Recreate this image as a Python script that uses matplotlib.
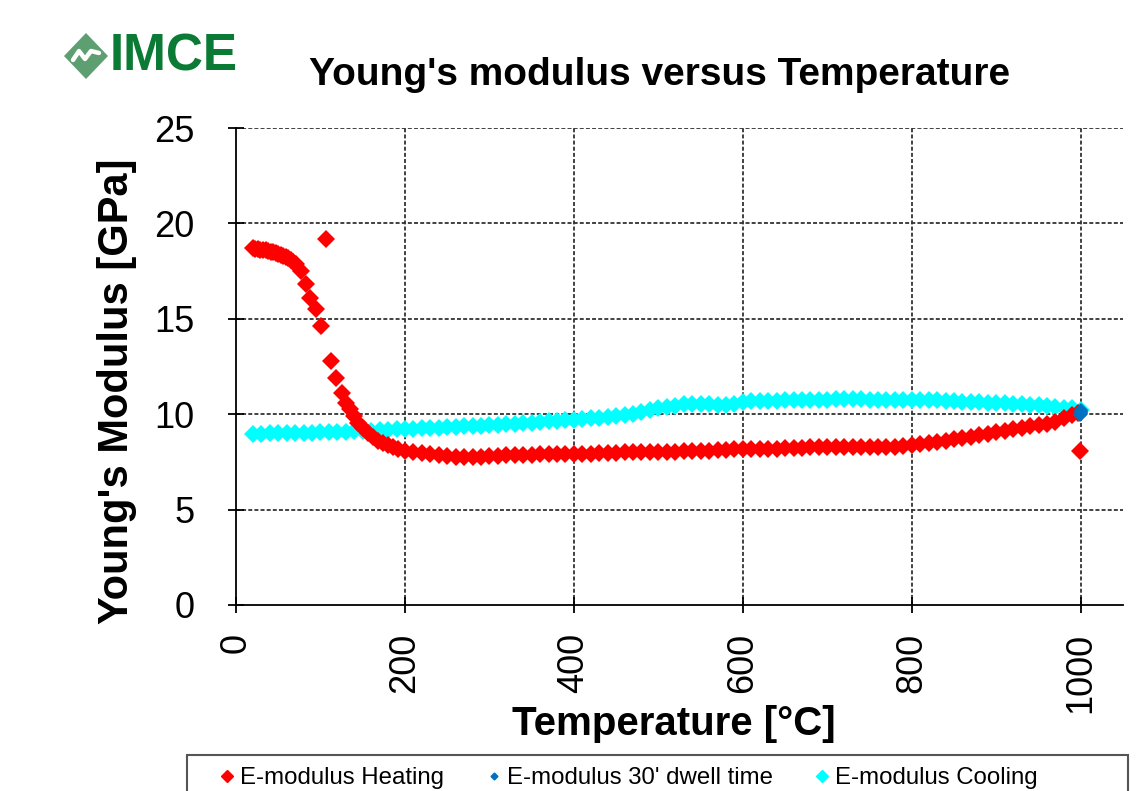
import matplotlib
matplotlib.use("Agg")
import matplotlib.pyplot as plt
from matplotlib.patches import Polygon, Rectangle
from matplotlib.lines import Line2D

plt.rcParams['font.family'] = ['Liberation Sans', 'DejaVu Sans']

# ---------------- data ----------------
heat_T = [20, 23, 26, 29, 32, 35, 38, 41, 44, 47, 50, 53, 56, 59, 62, 65, 68, 71,
          77, 83, 88, 95, 101, 106, 112, 118, 125, 130, 135, 140, 145, 150, 156,
          162, 168, 174, 180, 186, 192,
          200, 210, 220, 230, 240, 250, 260, 270, 280, 290, 300, 310, 320, 330,
          340, 350, 360, 370, 380, 390, 400, 410, 420, 430, 440, 450, 460, 470,
          480, 490, 500, 510, 520, 530, 540, 550, 560, 570, 580, 590, 600, 610,
          620, 630, 640, 650, 660, 670, 680, 690, 700, 710, 720, 730, 740, 750,
          760, 770, 780, 790, 800, 810, 820, 830, 840, 850, 860, 870, 880, 890,
          900, 910, 920, 930, 940, 950, 960, 970, 980, 990, 997, 999]
heat_E = [18.7, 18.65, 18.65, 18.6, 18.6, 18.6, 18.55, 18.5, 18.5, 18.45, 18.4,
          18.35, 18.3, 18.25, 18.2, 18.1, 18.0, 17.85,
          17.5, 16.8, 16.1, 15.5, 14.6, 19.2, 12.8, 11.9, 11.1, 10.6, 10.25, 9.9,
          9.55, 9.26, 9.0, 8.82, 8.62, 8.5, 8.38, 8.28, 8.18,
          8.08, 8.0, 7.95, 7.9, 7.85, 7.81, 7.78, 7.75, 7.76, 7.78, 7.8, 7.82,
          7.84, 7.86, 7.87, 7.88, 7.89, 7.9, 7.9, 7.91, 7.91, 7.92, 7.93, 7.95,
          7.97, 7.99, 8.0, 8.01, 8.02, 8.03, 8.03, 8.03, 8.04, 8.05, 8.06, 8.07,
          8.08, 8.1, 8.13, 8.16, 8.18, 8.18, 8.18, 8.19, 8.2, 8.21, 8.23, 8.25,
          8.26, 8.27, 8.27, 8.27, 8.27, 8.27, 8.28, 8.28, 8.29, 8.29, 8.3, 8.33,
          8.37, 8.42, 8.48, 8.55, 8.62, 8.68, 8.75, 8.82, 8.9, 8.98, 9.05, 9.13,
          9.22, 9.3, 9.37, 9.43, 9.5, 9.6, 9.8, 9.95, 10.05, 8.07]

dwell_T = [1000, 1000, 1000, 1000, 1000, 999]
dwell_E = [10.2, 10.15, 10.1, 10.05, 10.0, 9.95]

cool_T = [1000, 990, 980, 970, 960, 950, 940, 930, 920, 910, 900, 890, 880, 870,
          860, 850, 840, 830, 820, 810, 800, 790, 780, 770, 760, 750, 740, 730,
          720, 710, 700, 690, 680, 670, 660, 650, 640, 630, 620, 610, 600, 590,
          580, 570, 560, 550, 540, 530, 520, 510, 500, 490, 480, 470, 460, 450,
          440, 430, 420, 410, 400, 390, 380, 370, 360, 350, 340, 330, 320, 310,
          300, 290, 280, 270, 260, 250, 240, 230, 220, 210, 200, 190, 180, 170,
          160, 150, 140, 130, 120, 110, 100, 90, 80, 70, 60, 50, 40, 30, 20]
cool_E = [10.2, 10.3, 10.35, 10.4, 10.45, 10.48, 10.5, 10.52, 10.55, 10.57, 10.58,
          10.6, 10.62, 10.64, 10.66, 10.68, 10.7, 10.72, 10.73, 10.74, 10.75,
          10.75, 10.76, 10.76, 10.77, 10.77, 10.78, 10.78, 10.78, 10.78, 10.77,
          10.77, 10.76, 10.75, 10.73, 10.72, 10.71, 10.7, 10.69, 10.67, 10.62,
          10.52, 10.47, 10.5, 10.52, 10.55, 10.55, 10.52, 10.45, 10.38, 10.3,
          10.2, 10.1, 10.02, 9.95, 9.9, 9.86, 9.82, 9.78, 9.75, 9.72, 9.68, 9.65,
          9.62, 9.59, 9.56, 9.53, 9.5, 9.47, 9.44, 9.42, 9.4, 9.38, 9.36, 9.34,
          9.32, 9.3, 9.28, 9.26, 9.24, 9.22, 9.2, 9.18, 9.16, 9.14, 9.12, 9.1,
          9.09, 9.08, 9.06, 9.05, 9.04, 9.03, 9.02, 9.01, 9.0, 8.99, 8.98, 8.97]

x_ticks = [0, 200, 400, 600, 800, 1000]
y_ticks = [0, 5, 10, 15, 20, 25]

labels = ["E-modulus Heating", "E-modulus 30' dwell time", "E-modulus Cooling"]
colors = ["#FF0000", "#0070C0", "#00FFFF"]

# ---------------- figure ----------------
W, H = 1145, 791
fig = plt.figure(figsize=(W / 100, H / 100), dpi=100)
fig.patch.set_facecolor('white')

# pixel-space overlay (logo + legend frame), behind everything
ov = fig.add_axes([0, 0, 1, 1], zorder=-1)
ov.set_xlim(0, W)
ov.set_ylim(H, 0)
ov.axis('off')
ov.patch.set_alpha(0)
ov.add_patch(Polygon([[86, 33], [108, 56], [86, 79], [64, 56]], closed=True,
                     facecolor='#5e9f72', edgecolor='none'))
ov.plot([73, 79, 85, 91, 99], [60, 51, 59, 51, 53], color='white', lw=3.2,
        solid_capstyle='round', solid_joinstyle='round')
ov.text(110, 57, "IMCE", fontsize=37, fontweight='bold', color='#0b7a34',
        ha='left', va='center')
ov.add_patch(Rectangle((187, 755), 1128 - 187, 60, facecolor='white',
                       edgecolor='#555555', lw=1.5))

ax = fig.add_axes([236 / W, 1 - 605 / H, (1123 - 236) / W, (605 - 128) / H])
ax.set_xlim(0, 1050)
ax.set_ylim(0, 25)
ax.patch.set_alpha(0)

ax.plot(cool_T, cool_E, linestyle='none', marker='D', ms=8.8, color=colors[2],
        markeredgewidth=0, zorder=3)
ax.plot(heat_T, heat_E, linestyle='none', marker='D', ms=8.8, color=colors[0],
        markeredgewidth=0, zorder=4)
ax.plot(dwell_T, dwell_E, linestyle='none', marker='D', ms=7.5, color=colors[1],
        markeredgewidth=0, zorder=5)

ax.set_xticks(x_ticks)
ax.set_yticks(y_ticks)
ax.set_xticklabels([str(v) for v in x_ticks], rotation=90)
ax.tick_params(axis='both', direction='inout', length=12, width=1.3,
               labelsize=26, colors='black')
ax.tick_params(axis='y', pad=24)
ax.tick_params(axis='x', pad=14)

for s in ['top', 'right']:
    ax.spines[s].set_visible(False)
for s in ['left', 'bottom']:
    ax.spines[s].set_linewidth(1.3)
    ax.spines[s].set_color('black')

dash = (0, (2.2, 1.2))
for yv in y_ticks[1:]:
    ax.axhline(yv, color='#333333', lw=1.3, linestyle=dash, zorder=1)
for xv in x_ticks[1:]:
    ax.axvline(xv, color='#333333', lw=1.3, linestyle=dash, zorder=1)

# titles
fig.text(660 / W, 1 - 75 / H, "Young's modulus versus Temperature",
         ha='center', va='center', fontsize=28, fontweight='bold')
fig.text(674 / W, 1 - 724 / H, "Temperature [°C]",
         ha='center', va='center', fontsize=29, fontweight='bold')
fig.text(117 / W, 1 - 391 / H, "Young's Modulus [GPa]", rotation=90,
         ha='center', va='center', fontsize=30, fontweight='bold')

# legend (frame drawn separately above; cut by the figure's bottom edge)
handles = [Line2D([], [], linestyle='none', marker='D', ms=6, color=colors[0]),
           Line2D([], [], linestyle='none', marker='D', ms=3.5, color=colors[1]),
           Line2D([], [], linestyle='none', marker='D', ms=6, color=colors[2])]
leg = fig.legend(handles, labels, loc='center left',
                 bbox_to_anchor=(220 / W, 1 - 778 / H),
                 ncol=3, fontsize=17.3, frameon=False,
                 handlelength=0.6, handletextpad=0.25, borderpad=0.0,
                 borderaxespad=0, columnspacing=1.75)

fig.savefig("out.png", dpi=100)
